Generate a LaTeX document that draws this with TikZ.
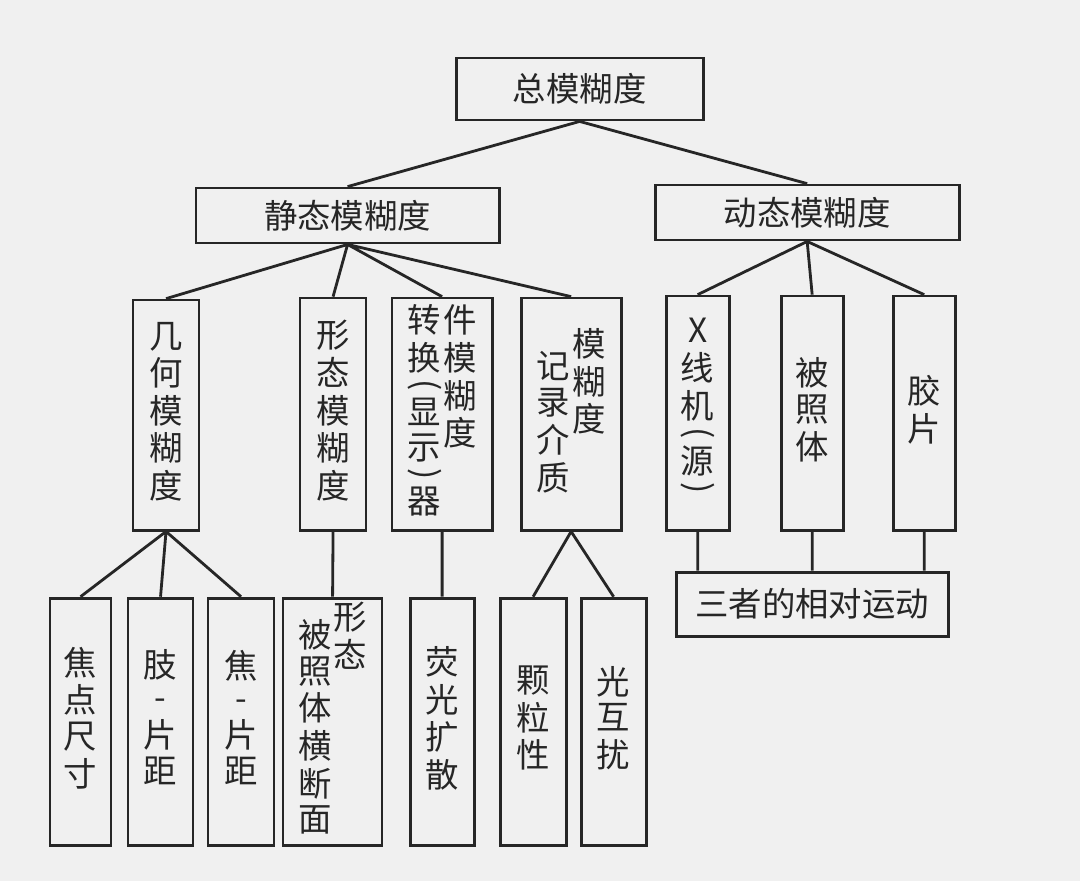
\documentclass[tikz,border=0pt]{standalone}
\usepackage{fontspec}
\usepackage{graphicx}
\setmainfont{Noto Sans CJK SC}
\newcommand\bx[6]{\node[box,minimum width={(#4-#2)*0.02cm},minimum height={(#5-#3)*0.02cm}] (#1) at ({(#2+#4)/2*0.02},{-(#3+#5)/2*0.02}) {#6};}
\newcommand\vcol[1]{\begin{tabular}[t]{@{}c@{}}#1\end{tabular}}
\newcommand\lp{\rotatebox[origin=c]{-90}{(}}
\newcommand\rp{\rotatebox[origin=c]{-90}{)}}
\begin{document}
\begin{tikzpicture}[box/.style={draw=black!85,line width=1.6pt,inner sep=0pt,font=\fontsize{19}{18.2}\selectfont,text=black!85},
  ln/.style={draw=black!85,line width=1.6pt}]
\fill[gray!12] (0,0) rectangle (21.6,-17.62);
\useasboundingbox (0,0) rectangle (21.6,-17.62);
\bx{top}{456}{58}{703}{120}{总模糊度}
\bx{st}{196}{188}{499}{243}{静态模糊度}
\bx{dy}{655}{185}{959}{240}{动态模糊度}
\bx{jh}{133}{300}{199}{530}{\vcol{几\\何\\模\\糊\\度}}
\bx{xt}{300}{298}{366}{530}{\vcol{形\\态\\模\\糊\\度}}
\bx{zh}{392}{298}{492}{530}{\vcol{转\\换\\[-4pt]\lp\\[-4pt]显\\示\\[-4pt]\rp\\[-4pt]器}\hspace{1pt}\vcol{件\\模\\糊\\度}}
\bx{jl}{521}{298}{621}{530}{\raisebox{-0.45cm}{\vcol{记\\录\\介\\质}}\hspace{1pt}\vcol{模\\糊\\度}}
\bx{xr}{666}{296}{729}{530}{\vcol{X\\线\\机\\[-4pt]\lp\\[-4pt]源\\[-4pt]\rp}}
\bx{bz}{781}{296}{843}{530}{\vcol{被\\照\\体}}
\bx{jp}{893}{296}{955}{530}{\vcol{胶\\片}}
\bx{three}{676}{572}{948}{636}{三者的相对运动}
\bx{a1}{50}{598}{111}{845}{\vcol{焦\\点\\尺\\寸}}
\bx{a2}{128}{598}{193}{845}{\vcol{肢\\-\\片\\距}}
\bx{a3}{208}{598}{274}{845}{\vcol{焦\\-\\片\\距}}
\bx{a4}{283}{598}{382}{845}{\raisebox{-0.35cm}{\vcol{被\\照\\体\\横\\断\\面}}\hspace{1pt}\vcol{形\\态}}
\bx{a5}{410}{598}{474}{845}{\vcol{荧\\光\\扩\\散}}
\bx{a6}{500}{598}{566}{845}{\vcol{颗\\粒\\性}}
\bx{a7}{581}{598}{646}{845}{\vcol{光\\互\\扰}}
\path[ln] (top.south) -- (st.north) (top.south) -- (dy.north)
 (st.south) -- (jh.north) (st.south) -- (xt.north) (st.south) -- (zh.north) (st.south) -- (jl.north)
 (dy.south) -- (xr.north) (dy.south) -- (bz.north) (dy.south) -- (jp.north)
 (jh.south) -- (a1.north) (jh.south) -- (a2.north) (jh.south) -- (a3.north)
 (xt.south) -- (a4.north) (zh.south) -- (a5.north)
 (jl.south) -- (a6.north) (jl.south) -- (a7.north)
 (xr.south) -- (xr.south |- three.north) (bz.south) -- (bz.south |- three.north) (jp.south) -- (jp.south |- three.north);
\end{tikzpicture}
\end{document}
